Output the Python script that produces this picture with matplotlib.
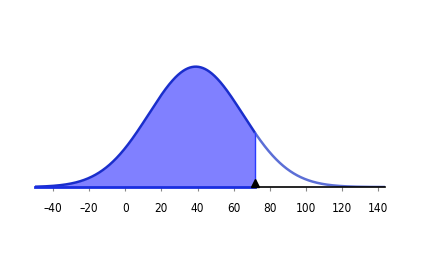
import numpy as np
import matplotlib
matplotlib.use("Agg")
import matplotlib.pyplot as plt

mean = 39
sd = 26
cutoff = 72
xmin, xmax = -50, 144
ticks = [-40, -20, 0, 20, 40, 60, 80, 100, 120, 140]

x = np.linspace(xmin, xmax, 800)
y = np.exp(-0.5 * ((x - mean) / sd) ** 2)

fig = plt.figure(figsize=(4.22, 2.58), dpi=100)
ax = fig.add_axes([0.083, 0.275, 0.83, 0.49])

left = x <= cutoff
xl = np.append(x[left], cutoff)
yl = np.append(y[left], np.exp(-0.5 * ((cutoff - mean) / sd) ** 2))
ax.fill_between(xl, 0, yl, color="#8080ff", lw=0)
ax.plot(xl, yl, color="#1a2ecc", lw=1.8, solid_capstyle="butt")
xr = x[x >= cutoff]
ax.plot(xr, np.exp(-0.5 * ((xr - mean) / sd) ** 2), color="#5c6fd6", lw=1.8)
ax.plot([cutoff, cutoff], [0, yl[-1]], color="#2a3cff", lw=1)
ax.plot([xmin, cutoff], [0, 0], color="#1a2ee0", lw=2, clip_on=False)
ax.plot([cutoff, xmax], [0, 0], color="black", lw=1.2, clip_on=False)
ax.plot([cutoff], [0.035], marker="^", color="black", ms=6, clip_on=False)

ax.set_xlim(xmin, xmax)
ax.set_ylim(0, 1.05)
for s in ax.spines.values():
    s.set_visible(False)
ax.set_yticks([])
ax.set_xticks(ticks)
ax.set_xticklabels([str(t).replace("-", "\u2013") for t in ticks],
                   fontfamily="DejaVu Sans", fontstretch="condensed", fontsize=8.5)
ax.tick_params(axis="x", length=3, color="#888888", pad=8)

fig.savefig("out.png", dpi=100)
